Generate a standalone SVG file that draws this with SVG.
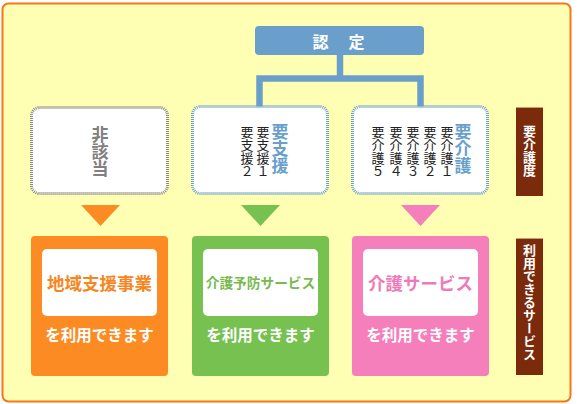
<svg xmlns="http://www.w3.org/2000/svg" width="577" height="404" viewBox="0 0 577 404">
<style>
text{font-family:"Noto Sans CJK JP","Noto Sans CJK SC",sans-serif;font-weight:700}
.v{writing-mode:vertical-rl;text-anchor:start}
.big{font-size:17px}
.sm{font-size:13px;font-weight:400;fill:#222}
.blue{fill:#6a9fcc}
.lvl{fill:#fff;stroke-width:3;stroke-dasharray:1 1}
.res{font-size:17.5px;text-anchor:middle}
.use{font-size:15.5px;fill:#fff;text-anchor:middle}
.lab{fill:#7b2a0b}
.labt{fill:#fff;font-size:13px}
</style>
<rect x="0" y="0" width="577" height="404" fill="#fff"/>
<rect x="2.5" y="3.5" width="568" height="398" rx="6" fill="#ffffb3" stroke="#f7761a" stroke-width="2"/>

<g id="connectors" fill="none" stroke="#6a9fcc" stroke-width="6.5">
  <path d="M340 55 V78.5 M259.5 107 V78.5 H420.5 V107"/>
</g>

<g id="nintei">
  <rect x="255" y="26" width="169" height="29" rx="4" fill="#6a9fcc"/>
  <text x="312.5" y="47.5" font-size="16" fill="#fff" letter-spacing="2">認　定</text>
</g>

<g id="higaito">
  <rect class="lvl" x="31.5" y="107.5" width="136" height="86" rx="8" stroke="#888"/>
  <text class="v big" x="100" y="126" fill="#808080">非該当</text>
</g>

<g id="yoshien">
  <rect class="lvl" x="192.5" y="106.5" width="135" height="87" rx="8" stroke="#6a9fcc"/>
  <text class="v big blue" x="280" y="123">要支援</text>
  <text class="v sm" x="263" y="126">要支援１</text>
  <text class="v sm" x="247" y="126">要支援２</text>
</g>

<g id="yokaigo">
  <rect class="lvl" x="352.5" y="106.5" width="135" height="87" rx="8" stroke="#6a9fcc"/>
  <text class="v big blue" x="463" y="123">要介護</text>
  <text class="v sm" x="447" y="126">要介護１</text>
  <text class="v sm" x="430" y="126">要介護２</text>
  <text class="v sm" x="413" y="126">要介護３</text>
  <text class="v sm" x="396" y="126">要介護４</text>
  <text class="v sm" x="378" y="126">要介護５</text>
</g>

<g id="label-level">
  <rect class="lab" x="516" y="107" width="27" height="89"/>
  <rect x="516" y="107" width="27" height="1" fill="#c8a070"/>
  <text class="v labt" x="529.5" y="124.5">要介護度</text>
</g>

<g id="label-service">
  <rect class="lab" x="516" y="238" width="27" height="137"/>
  <rect x="516" y="238" width="27" height="1" fill="#c8a070"/>
  <text class="v labt" x="529.5" y="243.5">利用できるサービス</text>
</g>

<g id="tri-orange"><polygon points="81,205 120,205 100.5,226" fill="#fb8b22"/></g>
<g id="tri-green"><polygon points="241,205 280,205 260.5,226" fill="#77c151"/></g>
<g id="tri-pink"><polygon points="401,205 440,205 420.5,226" fill="#f47fbb"/></g>

<g id="chiiki">
  <rect x="31" y="236" width="137" height="140" rx="4" fill="#fb8b22"/>
  <rect x="42" y="249" width="115" height="67" rx="5" fill="#fff"/>
  <text class="res" x="99.5" y="289.5" fill="#f7861e">地域支援事業</text>
  <text class="use" x="99.5" y="340.5">を利用できます</text>
</g>

<g id="yobo">
  <rect x="192" y="236" width="137" height="140" rx="4" fill="#77c151"/>
  <rect x="203" y="249" width="115" height="67" rx="5" fill="#fff"/>
  <text x="260.5" y="288" font-size="13.7" text-anchor="middle" fill="#77bb4f">介護予防サービス</text>
  <text class="use" x="260.5" y="340.5">を利用できます</text>
</g>

<g id="kaigo">
  <rect x="352" y="236" width="137" height="140" rx="4" fill="#f47fbb"/>
  <rect x="363" y="249" width="115" height="67" rx="5" fill="#fff"/>
  <text class="res" x="420.5" y="289.5" fill="#f07ab8">介護サービス</text>
  <text class="use" x="420.5" y="340.5">を利用できます</text>
</g>
</svg>
